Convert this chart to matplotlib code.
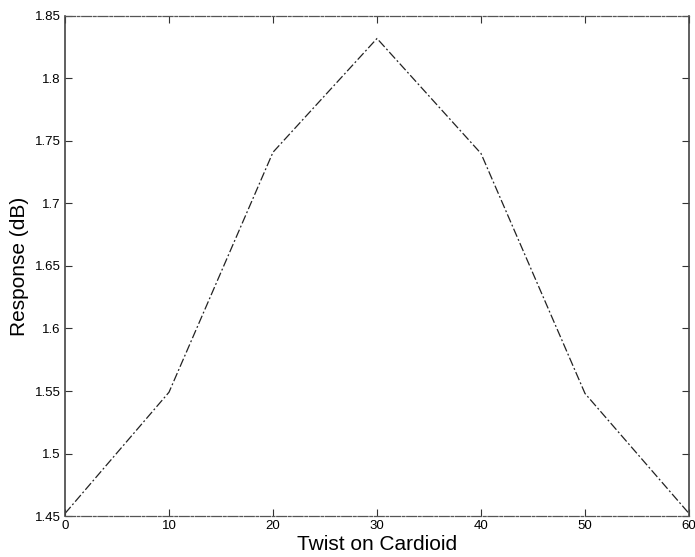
import matplotlib
matplotlib.use("Agg")
import matplotlib.pyplot as plt

# data
twist = [0, 10, 20, 30, 40, 50, 60]
response = [1.452, 1.549, 1.741, 1.832, 1.740, 1.548, 1.452]

xticks = [0, 10, 20, 30, 40, 50, 60]
yticks = [1.45, 1.5, 1.55, 1.6, 1.65, 1.7, 1.75, 1.8, 1.85]
ytick_labels = ["1.45", "1.5", "1.55", "1.6", "1.65", "1.7", "1.75", "1.8", "1.85"]

plt.rcParams["font.family"] = ["Liberation Sans", "DejaVu Sans"]

fig = plt.figure(figsize=(6.95, 5.57), dpi=100)
ax = fig.add_axes([0.0935, 0.0736, 0.8979, 0.8977])

ax.plot(twist, response, color="#222222", linewidth=0.9,
        linestyle=(0, (7, 2, 1.5, 2)))

ax.set_xlim(0, 60)
ax.set_ylim(1.45, 1.85)
ax.set_xticks(xticks)
ax.set_xticklabels([str(t) for t in xticks])
ax.set_yticks(yticks)
ax.set_yticklabels(ytick_labels)
ax.tick_params(direction="in", length=5, width=0.8, labelsize=9.5,
               color="#333333", pad=3, top=True, right=True)

for side in ["left", "right"]:
    ax.spines[side].set_color("#444444")
    ax.spines[side].set_linewidth(1.2)
for side in ["top", "bottom"]:
    ax.spines[side].set_color("#555555")
    ax.spines[side].set_linewidth(0.9)
    ax.spines[side].set_linestyle((0, (8, 1.5, 2, 1.5)))

ax.set_xlabel("Twist on Cardioid", fontsize=15, labelpad=2)
ax.set_ylabel("Response (dB)", fontsize=15, labelpad=4)

fig.savefig("out.png", dpi=100)
